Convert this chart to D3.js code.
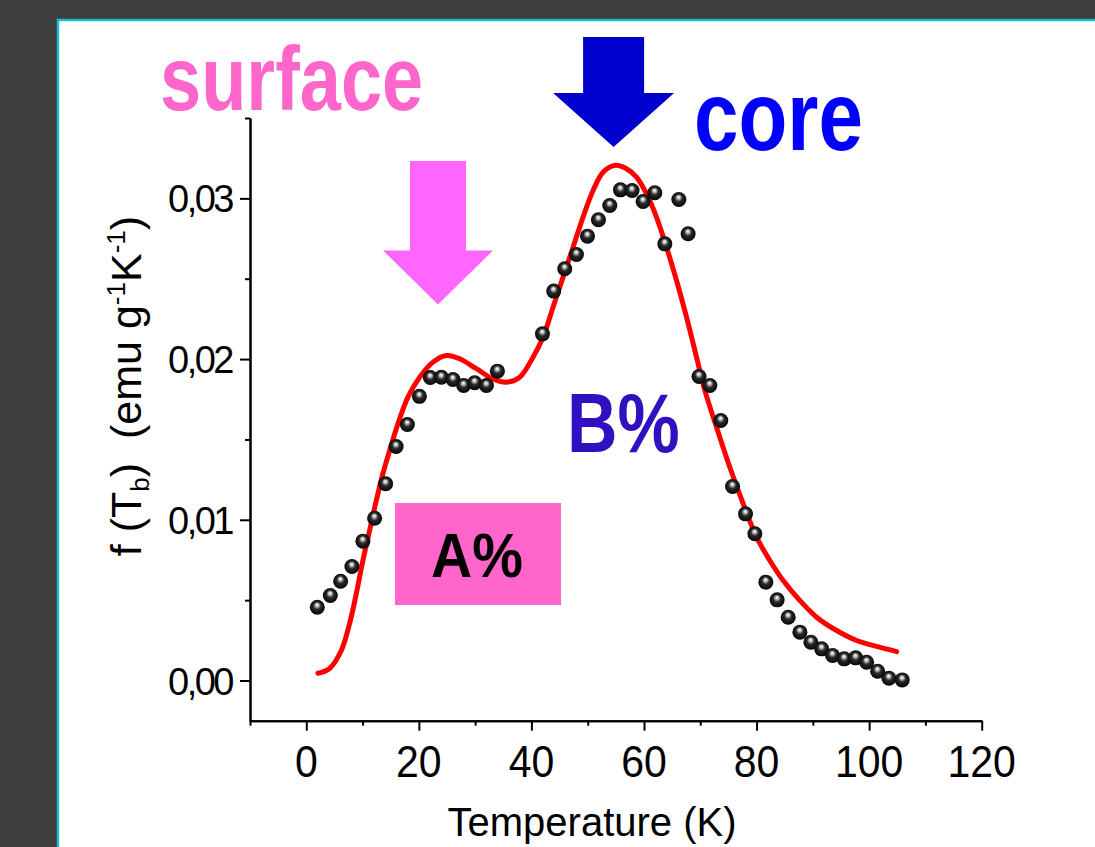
<!DOCTYPE html>
<html>
<head>
<meta charset="utf-8">
<script src="https://cdn.jsdelivr.net/npm/d3@7"></script>
<style>
  html, body { margin: 0; padding: 0; background: #3d3d3d; }
  svg { display: block; }
  text { font-family: "Liberation Sans", Arial, sans-serif; }
</style>
</head>
<body>
<svg id="chart" width="1095" height="847"></svg>
<script>
// Measured distribution f(Tb): temperatures (K) and values (emu g^-1 K^-1)
const measuredT = [1.96, 4.27, 6.1, 8.11, 10.06, 12.14, 14.1, 15.96, 17.96, 20.1, 22.04, 24.0, 26.06, 27.96, 29.92, 32.0, 33.96,
  41.96, 43.96, 45.92, 48.0, 49.96, 51.91, 53.92, 55.82, 57.88, 59.84, 61.92, 63.7, 66.19, 67.84,
  69.78, 71.7, 73.65, 75.73, 78.04, 79.7, 81.65, 83.66, 85.62, 87.7, 89.65, 91.56, 93.51, 95.57, 97.6, 99.56, 101.51, 103.52, 105.88];
const measuredF = [0.00456, 0.00529, 0.00618, 0.00709, 0.00867, 0.0101, 0.01224, 0.01456, 0.01593, 0.01768, 0.01885, 0.01887, 0.01873, 0.01836, 0.01853, 0.01836, 0.01925,
  0.02157, 0.02423, 0.02562, 0.02651, 0.02765, 0.02867, 0.02956, 0.03053, 0.03049, 0.02981, 0.03035, 0.02717, 0.02993, 0.0278,
  0.01892, 0.01836, 0.01618, 0.01207, 0.01037, 0.00913, 0.00612, 0.00502, 0.00394, 0.00301, 0.00238, 0.00197, 0.00156, 0.00135, 0.00141, 0.00114, 0.00058, 0.00014, 0.00004];

// Two-component fit curve (surface + core)
const fitT = [2.06, 4.14, 6.22, 7.7, 8.89, 10.06, 11.25, 12.44, 13.62, 14.81, 16.28, 18.06, 20.14, 22.51, 24.89, 27.25, 30.22, 33.17, 35.56, 37.92,
  40.28, 42.06, 43.84, 45.62, 47.4, 49.17, 50.95, 52.73, 54.81, 56.89, 58.67, 60.44, 62.22, 64.0, 65.78, 67.56, 69.33, 70.81, 72.89, 75.25,
  77.62, 80.0, 82.36, 84.73, 87.69, 90.67, 94.22, 97.78, 101.33, 104.89];
const fitF = [0.00045, 0.00075, 0.00187, 0.00355, 0.00541, 0.00747, 0.00933, 0.0112, 0.01288, 0.01431, 0.01597, 0.01763, 0.01887, 0.01981, 0.02022, 0.02002, 0.0194, 0.01877, 0.01856, 0.01887,
  0.02012, 0.02136, 0.02323, 0.0251, 0.02696, 0.02883, 0.03049, 0.03163, 0.03205, 0.03184, 0.03132, 0.03029, 0.02883, 0.02696, 0.02489, 0.02261, 0.02012, 0.01805, 0.01576, 0.01327,
  0.011, 0.00892, 0.00747, 0.00622, 0.00498, 0.00394, 0.00311, 0.00249, 0.00212, 0.0018];

// Axis ticks
const xMajorTicks = [0, 20, 40, 60, 80, 100, 120];
const xMinorTicks = [-10, 10, 30, 50, 70, 90, 110];
const yMajorTicks = [0, 0.01, 0.02, 0.03];
const yMinorTicks = [0.005, 0.015, 0.025, 0.035];

const svg = d3.select("#chart");

// Page frame
svg.append("rect").attr("width", 1095).attr("height", 847).attr("fill", "#3d3d3d");
svg.append("rect").attr("x", 58).attr("y", 20).attr("width", 1100).attr("height", 900)
  .attr("fill", "#ffffff").attr("stroke", "#17becf").attr("stroke-width", 2.5);

const x = d3.scaleLinear().domain([-10, 120]).range([250, 981.7]);
const y = d3.scaleLinear().domain([-0.0025, 0.035]).range([720.7, 118]);

const defs = svg.append("defs");
const grad = defs.append("radialGradient").attr("id", "ball")
  .attr("cx", "50%").attr("cy", "50%").attr("r", "55%").attr("fx", "48%").attr("fy", "32%");
grad.append("stop").attr("offset", "0%").attr("stop-color", "#ffffff");
grad.append("stop").attr("offset", "18%").attr("stop-color", "#c8c8c8");
grad.append("stop").attr("offset", "45%").attr("stop-color", "#2a2a2a");
grad.append("stop").attr("offset", "100%").attr("stop-color", "#000000");

// Text with a vertical stretch
function label(parent, str, px, py, size, k, opts = {}) {
  const t = parent.append("text")
    .attr("transform", `translate(${px},${py}) scale(1,${k})`)
    .attr("font-size", size)
    .attr("font-weight", opts.weight || "normal")
    .attr("fill", opts.fill || "#000")
    .attr("text-anchor", opts.anchor || "start")
    .text(str);
  if (opts.spacing) t.attr("letter-spacing", opts.spacing);
  return t;
}

// Axes
const axisG = svg.append("g");
const xAxisMajor = d3.axisBottom(x).tickValues(xMajorTicks).tickSize(10).tickSizeOuter(0).tickFormat(() => "");
const xAxisMinor = d3.axisBottom(x).tickValues(xMinorTicks).tickSize(5).tickSizeOuter(0).tickFormat(() => "");
const yAxisMajor = d3.axisLeft(y).tickValues(yMajorTicks).tickSize(10).tickSizeOuter(0).tickFormat(() => "");
const yAxisMinor = d3.axisLeft(y).tickValues(yMinorTicks).tickSize(5).tickSizeOuter(0).tickFormat(() => "");

[xAxisMajor, xAxisMinor].forEach(ax => {
  axisG.append("g").attr("transform", `translate(0,${y(-0.0025)})`).call(ax);
});
[yAxisMajor, yAxisMinor].forEach(ax => {
  axisG.append("g").attr("transform", `translate(${x(-10)},0)`).call(ax);
});
axisG.selectAll("path.domain").attr("stroke", "#000").attr("stroke-width", 2);
axisG.selectAll(".tick line").attr("stroke", "#000").attr("stroke-width", 2);

// Tick labels
const fmtY = d3.format(".2f");
xMajorTicks.forEach(v => label(svg, String(v), x(v), 777, 41, 1.08, { anchor: "middle" }));
yMajorTicks.forEach(v => label(svg, fmtY(v).replace(".", ","), 232, y(v) + 14, 38, 1.0, { anchor: "end", spacing: -2.5 }));

// Axis titles
label(svg, "Temperature (K)", 592, 836, 40, 1.03, { anchor: "middle" });
const yTitle = svg.append("text")
  .attr("transform", "translate(141,386) rotate(-90)")
  .attr("text-anchor", "middle").attr("font-size", 43).attr("fill", "#000");
yTitle.append("tspan").text("f (T");
yTitle.append("tspan").attr("font-size", 26).attr("dy", 8).text("b");
yTitle.append("tspan").attr("dy", -8).text(")\u00a0\u00a0(emu g");
yTitle.append("tspan").attr("font-size", 26).attr("dy", -16).text("-1");
yTitle.append("tspan").attr("dy", 16).text("K");
yTitle.append("tspan").attr("font-size", 26).attr("dy", -16).text("-1");
yTitle.append("tspan").attr("dy", 16).text(")");

// Fit curve
const fitData = fitT.map((t, i) => [t, fitF[i]]);
svg.append("path").datum(fitData)
  .attr("fill", "none").attr("stroke", "#ff0000").attr("stroke-width", 5).attr("stroke-linecap", "round")
  .attr("d", d3.line().x(d => x(d[0])).y(d => y(d[1])).curve(d3.curveCatmullRom.alpha(0.5)));

// Measured points
const pts = measuredT.map((t, i) => [t, measuredF[i]]);
svg.append("g").selectAll("circle").data(pts).join("circle")
  .attr("cx", d => x(d[0])).attr("cy", d => y(d[1])).attr("r", 7.5)
  .attr("fill", "url(#ball)");

// Down arrows marking the surface and core contributions
function downArrow(tipT, tipF, shaftHalf, headHalf, headLen, topY, color) {
  const tx = x(tipT), ty = y(tipF);
  const by = ty - headLen;
  const p = d3.path();
  p.moveTo(tx - shaftHalf, topY);
  p.lineTo(tx + shaftHalf, topY);
  p.lineTo(tx + shaftHalf, by);
  p.lineTo(tx + headHalf, by);
  p.lineTo(tx, ty);
  p.lineTo(tx - headHalf, by);
  p.lineTo(tx - shaftHalf, by);
  p.closePath();
  svg.append("path").attr("d", p.toString()).attr("fill", color);
}
downArrow(23.4, 0.0234, 28, 55, 54, 161, "#ff66ff");
downArrow(54.6, 0.0332, 30.5, 60.5, 54, 37, "#0000cc");

// Component labels
label(svg, "surface", 160, 110, 74, 1.22, { weight: "bold", fill: "#ff66cc" });
label(svg, "core", 694, 150, 80, 1.24, { weight: "bold", fill: "#0000ff" });
label(svg, "B%", 567, 452, 70, 1.18, { weight: "bold", fill: "#3010c0" });
svg.append("rect").attr("x", 395).attr("y", 503).attr("width", 166).attr("height", 102).attr("fill", "#ff66cc");
label(svg, "A%", 431, 577, 57, 1.1, { weight: "bold", fill: "#000" });
</script>
</body>
</html>
